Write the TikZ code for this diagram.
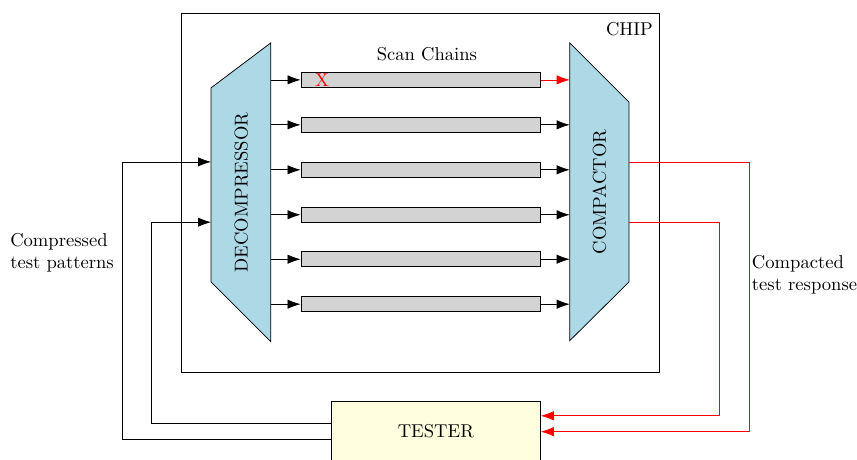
\documentclass[tikz,border=0pt]{standalone}
\usepackage{xcolor}
\usepackage{tikz}
\usetikzlibrary{arrows.meta,positioning,calc}
\definecolor{unitblue}{HTML}{ADD8E6}
\definecolor{chaingray}{HTML}{D3D3D3}
\definecolor{testeryellow}{HTML}{FFFFE0}

\begin{document}
\begin{tikzpicture}[>={Latex[length=7pt,width=5pt]}, every node/.style={align=center},
    chain/.style={draw, fill=chaingray, minimum width=4.52cm, minimum height=0.28cm, inner sep=0pt}]
  \useasboundingbox (0,0) rectangle (16.20,-8.69);

  % chip outline
  \node[draw, minimum width=9.04cm, minimum height=6.78cm, inner sep=0pt] (chip) at (7.94,-3.64) {};
  \node[anchor=north east, inner sep=0pt] (chiplabel) at ($(chip.north east)+(-0.12,-0.17)$) {CHIP};

  % decompressor and compactor
  \draw[fill=unitblue] (3.99,-1.66) coordinate (dec-tl) -- (5.12,-0.81) coordinate (dec-tr)
    -- (5.12,-6.46) coordinate (dec-br) -- (3.99,-5.33) coordinate (dec-bl) -- cycle;
  \node[rotate=90] (declabel) at (4.56,-3.64) {DECOMPRESSOR};
  \draw[fill=unitblue] (10.77,-0.81) coordinate (cmp-tl) -- (11.89,-1.93) coordinate (cmp-tr)
    -- (11.89,-5.33) coordinate (cmp-br) -- (10.77,-6.44) coordinate (cmp-bl) -- cycle;
  \node[rotate=90] (cmplabel) at (11.33,-3.63) {COMPACTOR};

  % scan chains
  \node (scanlabel) at (8.07,-1.02) {Scan Chains};
  \node[chain] (ch1) at (7.95,-1.51) {};
  \node[chain] (ch2) at (7.95,-2.36) {};
  \node[chain] (ch3) at (7.95,-3.21) {};
  \node[chain] (ch4) at (7.95,-4.06) {};
  \node[chain] (ch5) at (7.95,-4.90) {};
  \node[chain] (ch6) at (7.95,-5.75) {};
  \node[red, inner sep=0pt] (xmark) at (6.09,-1.51) {X};

  \draw[->] (ch1.west -| dec-tr) -- (ch1.west);
  \draw[->] (ch2.west -| dec-tr) -- (ch2.west);
  \draw[->] (ch3.west -| dec-tr) -- (ch3.west);
  \draw[->] (ch4.west -| dec-tr) -- (ch4.west);
  \draw[->] (ch5.west -| dec-tr) -- (ch5.west);
  \draw[->] (ch6.west -| dec-tr) -- (ch6.west);
  \draw[->, red] (ch1.east) -- (ch1.east -| cmp-tl);
  \draw[->] (ch2.east) -- (ch2.east -| cmp-tl);
  \draw[->] (ch3.east) -- (ch3.east -| cmp-tl);
  \draw[->] (ch4.east) -- (ch4.east -| cmp-tl);
  \draw[->] (ch5.east) -- (ch5.east -| cmp-tl);
  \draw[->] (ch6.east) -- (ch6.east -| cmp-tl);

  % tester and its links
  \node[draw, fill=testeryellow, minimum width=3.95cm, minimum height=1.13cm] (tester) at (8.24,-8.15) {TESTER};
  \coordinate (dec-in1) at (3.99,-3.06);
  \coordinate (dec-in2) at (3.99,-4.20);
  \coordinate (cmp-out1) at (11.89,-3.06);
  \coordinate (cmp-out2) at (11.89,-4.20);

  \draw[->] (tester.west |- 0,-8.30) -- (2.31,-8.30) |- (dec-in1);
  \draw[->] (tester.west |- 0,-8.01) -- (2.87,-8.01) |- (dec-in2);
  \draw[->, red] (cmp-out1) -- (14.16,-3.06) |- (tester.east |- 0,-8.16);
  \draw[->, red] (cmp-out2) -- (13.59,-4.20) |- (tester.east |- 0,-7.86);

  \node[align=left, anchor=west] (inlabel) at (0.07,-4.78) {Compressed\\test patterns};
  \node[align=left, anchor=west] (outlabel) at (14.09,-5.20) {Compacted\\test response};
\end{tikzpicture}
\end{document}
